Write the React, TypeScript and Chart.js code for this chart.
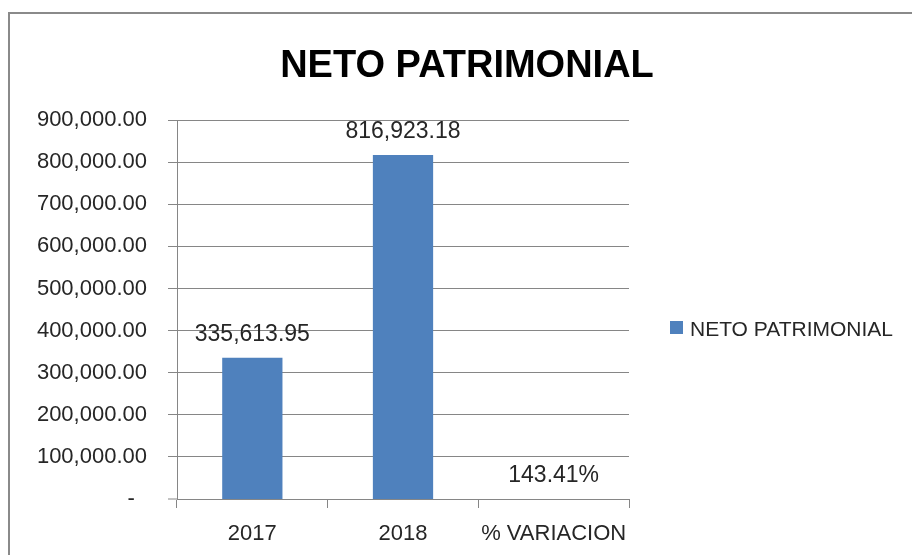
import React, { useEffect, useRef } from "react";
import { Chart, registerables } from "chart.js";

Chart.register(...registerables);

const chartTitle = "NETO PATRIMONIAL";
const seriesName = "NETO PATRIMONIAL";
const categories = ["2017", "2018", "% VARIACION"];
const values = [335613.95, 816923.18, 1.4341];
const percentIndex = [false, false, true];
const yMin = 0;
const yMax = 900000;
const yStep = 100000;

const FONT = "'Liberation Sans', Arial, sans-serif";
const BAR_COLOR = "#4f81bd";
const GRID_COLOR = "#868686";
const TEXT_COLOR = "#262626";

function fmtNumber(v: number): string {
  return v.toLocaleString("en-US", { minimumFractionDigits: 2, maximumFractionDigits: 2 });
}

function fmtValue(v: number, i: number): string {
  if (percentIndex[i]) return (v * 100).toFixed(2) + "%";
  return fmtNumber(v);
}

const overlayPlugin = {
  id: "overlay",
  afterDatasetsDraw(chart: any) {
    const ctx = chart.ctx;
    const meta = chart.getDatasetMeta(0);
    ctx.save();
    ctx.fillStyle = TEXT_COLOR;
    ctx.font = `23px ${FONT}`;
    ctx.textAlign = "center";
    ctx.textBaseline = "alphabetic";
    meta.data.forEach((el: any, i: number) => {
      ctx.fillText(fmtValue(values[i], i), el.x, el.y - 17);
    });
    ctx.restore();
  },
  afterDraw(chart: any) {
    const ctx = chart.ctx;
    ctx.save();
    // title
    ctx.fillStyle = "#000000";
    ctx.font = `bold 38px ${FONT}`;
    ctx.textAlign = "center";
    ctx.textBaseline = "alphabetic";
    ctx.fillText(chartTitle, 457, 63);
    // legend
    ctx.fillStyle = BAR_COLOR;
    ctx.fillRect(660, 307, 13, 13);
    ctx.fillStyle = TEXT_COLOR;
    ctx.font = `21px ${FONT}`;
    ctx.textAlign = "left";
    ctx.fillText(seriesName, 680, 322);
    ctx.restore();
  },
};

export default function App() {
  const ref = useRef<HTMLCanvasElement | null>(null);

  useEffect(() => {
    if (!ref.current) return;
    const chart = new Chart(ref.current, {
      type: "bar",
      data: {
        labels: categories,
        datasets: [
          {
            label: seriesName,
            data: values,
            backgroundColor: BAR_COLOR,
            borderWidth: 0,
            barPercentage: 0.4,
            categoryPercentage: 1.0,
          },
        ],
      },
      options: {
        responsive: false,
        animation: false,
        devicePixelRatio: 1,
        layout: { padding: { top: 106, right: 283, left: 0, bottom: 0 } },
        plugins: {
          legend: { display: false },
          title: { display: false },
          tooltip: { enabled: false },
        },
        scales: {
          x: {
            z: 1,
            grid: {
              display: true,
              drawOnChartArea: false,
              drawTicks: true,
              tickLength: 9,
              color: GRID_COLOR,
              offset: true,
            },
            border: { display: true, color: GRID_COLOR },
            ticks: {
              font: { family: FONT, size: 22 },
              color: TEXT_COLOR,
              padding: 13,
              maxRotation: 0,
            },
            afterFit: (s: any) => {
              s.height = 56;
            },
          },
          y: {
            min: yMin,
            max: yMax,
            grid: {
              color: GRID_COLOR,
              tickLength: 9,
              drawTicks: true,
              tickWidth: 1,
              tickColor: GRID_COLOR,
              lineWidth: (c: any) => (c.tick && c.tick.value === 0 ? 0 : 1),
            },
            border: { display: true, color: GRID_COLOR },
            ticks: {
              stepSize: yStep,
              font: { family: FONT, size: 22 },
              color: TEXT_COLOR,
              padding: 21,
              callback: (v: any) => (Number(v) === 0 ? "-  " : fmtNumber(Number(v))),
            },
            afterFit: (s: any) => {
              s.width = 167;
            },
          },
        },
      },
      plugins: [overlayPlugin],
    });
    return () => chart.destroy();
  }, []);

  return (
    <div
      style={{
        position: "fixed",
        left: 8,
        top: 12,
        width: 904,
        height: 543,
        boxSizing: "border-box",
        borderLeft: "2px solid #8a8a8a",
        borderTop: "2px solid #8a8a8a",
        background: "#ffffff",
      }}
    >
      <canvas ref={ref} width={902} height={541} style={{ display: "block" }} />
    </div>
  );
}
